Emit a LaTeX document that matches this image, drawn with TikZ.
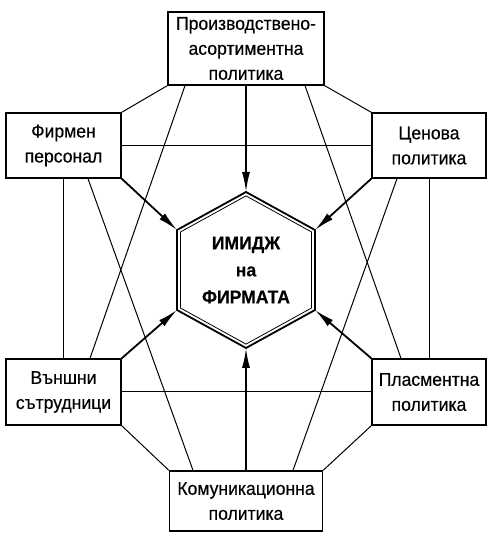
\documentclass[tikz,border=0pt]{standalone}
\usepackage{fontspec}
\setmainfont{Liberation Sans}[FakeStretch=0.95,FakeBold=0.4]
\usepackage{tikz}
\usetikzlibrary{calc}
\usetikzlibrary{arrows.meta}
\tikzset{
    mybox/.style = {rectangle, draw=black, line width=1.3pt, align=center, inner sep=0pt, font=\fontsize{18.5}{25}\selectfont},
    mytext/.style = {align=center, font=\fontsize{18.5}{27}\selectfont\bfseries},
    edgen/.style = {-, line width=1pt, black},
    edgea/.style = {-{Latex[length=20pt,width=8pt]}, line width=1.8pt, black},
    hexout/.style = {line width=1.8pt, black, line join=miter},
    hexin/.style = {line width=0.8pt, black, line join=miter}
}
\begin{document}
\begin{tikzpicture}[x=1pt,y=1pt]
\useasboundingbox (0,0) rectangle (500,546);
\node[mybox, minimum width=156, minimum height=73] at (246, 497.5) (pr) {Производствено-\\асортиментна\\политика};
\node[mybox, minimum width=115, minimum height=65] at (63.5, 400.5) (pe) {Фирмен\\персонал};
\node[mybox, minimum width=114, minimum height=65] at (429, 400.5) (ce) {Ценова\\политика};
\node[mybox, minimum width=115, minimum height=66] at (63.5, 154) (vs) {Външни\\сътрудници};
\node[mybox, minimum width=114, minimum height=66] at (429, 154) (pl) {Пласментна\\политика};
\node[mybox, minimum width=153, minimum height=60] at (246, 45) (ko) {Комуникационна\\политика};
\node[mytext] at (246, 276) (im) {ИМИДЖ\\на\\ФИРМАТА};
%
\coordinate (hn) at (246, 354);
\coordinate (hne) at (315, 316);
\coordinate (hse) at (315, 236);
\coordinate (hs) at (246, 198);
\coordinate (hsw) at (177, 236);
\coordinate (hnw) at (177, 316);
\draw[hexout] (hn) -- (hne) -- (hse) -- (hs) -- (hsw) -- (hnw) -- cycle;
\draw[hexin] ($(im)!.95!(hn)$) -- ($(im)!.95!(hne)$) -- ($(im)!.95!(hse)$) -- ($(im)!.95!(hs)$) -- ($(im)!.95!(hsw)$) -- ($(im)!.95!(hnw)$) -- cycle;
%
\draw[edgen] (pr.south west) -- (pe.north east);
\draw[edgen] (pr.south east) -- (ce.north west);
\draw[edgen] (vs.south east) -- (ko.north west);
\draw[edgen] (pl.south west) -- (ko.north east);
\draw[edgen] (pe.east) -- (ce.west);
\draw[edgen] (vs.east) -- (pl.west);
\draw[edgen] (pe.south) -- (vs.north);
\draw[edgen] (ce.south) -- (pl.north);
\draw[edgen] ([xshift=-61pt]pr.south) -- ([xshift=26.5pt]vs.north);
\draw[edgen] ([xshift=59pt]pr.south) -- ([xshift=-28pt]pl.north);
\draw[edgen] ([xshift=24.5pt]pe.south) -- ([xshift=-53pt]ko.north);
\draw[edgen] ([xshift=-32pt]ce.south) -- ([xshift=47pt]ko.north);
%
\draw[edgea] (pr.south) -- (hn);
\draw[edgea] (ko.north) -- (hs);
\draw[edgea] (pe.south east) -- (hnw);
\draw[edgea] (ce.south west) -- (hne);
\draw[edgea] (vs.north east) -- (hsw);
\draw[edgea] (pl.north west) -- (hse);

\end{tikzpicture}
\end{document}
